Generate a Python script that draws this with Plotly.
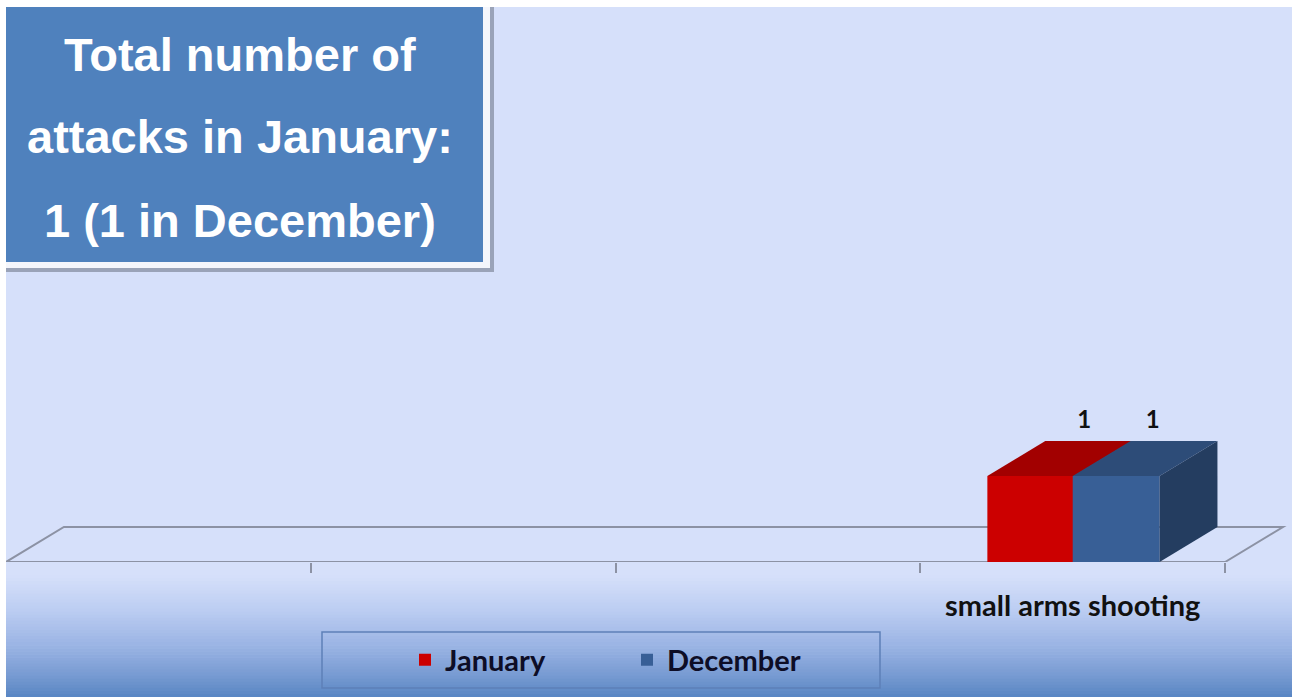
import plotly.graph_objects as go

# data
categories = ["", "", "", "small arms shooting"]
january = [None, None, None, 1]
december = [None, None, None, 1]
title_lines = ["Total number of", "attacks in January:", "1 (1 in December)"]

W, H = 1298, 697

# 3d look (axis units)
BAR_W = 0.285
OFFS = {"January": -0.28, "December": 0.0}
LABEL_SHIFT = {"January": 0.175, "December": 0.12}
DX, DY = 0.19, 0.407
X_RANGE = [-0.5, 3.713]
Y_RANGE = [0, 6.535]


def px(x):
    return x / W


def py(y):
    return 1 - y / H


fig = go.Figure()

front = {"January": "#cc0000", "December": "#385f96"}
top = {"January": "#a20000", "December": "#2d4c78"}
side = {"January": "#8a0000", "December": "#243d60"}

series = [("January", january), ("December", december)]
for name, vals in series:
    fig.add_trace(go.Bar(x=list(range(len(categories))), y=vals, name=name,
                         width=BAR_W, offset=OFFS[name],
                         marker=dict(color=front[name], line=dict(width=0))))

# top + side faces
for k, (name, vals) in enumerate(series):
    for i, v in enumerate(vals):
        if v is None:
            continue
        x0 = i + OFFS[name]
        x1 = x0 + BAR_W
        fig.add_trace(go.Scatter(x=[x0, x1, x1 + DX, x0 + DX, x0], y=[v, v, v + DY, v + DY, v],
                                 fill="toself", fillcolor=top[name], mode="lines",
                                 line=dict(width=0, color=top[name]),
                                 showlegend=False, hoverinfo="skip"))
        if k == len(series) - 1:
            fig.add_trace(go.Scatter(x=[x1, x1, x1 + DX, x1 + DX, x1], y=[0, v, v + DY, DY, 0],
                                     fill="toself", fillcolor=side[name], mode="lines",
                                     line=dict(width=0, color=side[name]),
                                     showlegend=False, hoverinfo="skip"))
        fig.add_trace(go.Scatter(x=[x0 + BAR_W / 2 + LABEL_SHIFT[name]], y=[v + DY + 0.22],
                                 mode="text", text=[str(v)], cliponaxis=False, showlegend=False,
                                 textfont=dict(family="Lato", size=24, color="#111111", weight="bold"),
                                 hoverinfo="skip"))

shapes = []
# background
shapes.append(dict(type="rect", xref="paper", yref="paper", x0=px(6), x1=px(1292), y0=0, y1=py(7),
                   fillcolor="#d6e0fa", line=dict(width=0), layer="below"))
# bottom gradient
stops = [(575, (214, 224, 250)), (610, (188, 205, 242)), (645, (155, 180, 228)),
         (675, (120, 155, 210)), (697, (88, 133, 195))]
n = 40
for j in range(n):
    y0 = 575 + (697 - 575) * j / n
    y1 = 575 + (697 - 575) * (j + 1) / n
    ym = (y0 + y1) / 2
    for a, b in zip(stops[:-1], stops[1:]):
        if a[0] <= ym <= b[0]:
            t = (ym - a[0]) / (b[0] - a[0])
            c = [round(a[1][q] + (b[1][q] - a[1][q]) * t) for q in range(3)]
            break
    shapes.append(dict(type="rect", xref="paper", yref="paper", x0=px(6), x1=px(1292),
                       y0=py(y1 + 0.5), y1=py(y0), fillcolor="rgb(%d,%d,%d)" % tuple(c),
                       line=dict(width=0), layer="below"))
# floor
fx0, fx1 = -0.5, 3.5
shapes.append(dict(type="path", xref="x", yref="y", layer="below",
                   path="M %f,0 L %f,0 L %f,%f L %f,%f Z" % (fx0, fx1, fx1 + DX, DY, fx0 + DX, DY),
                   line=dict(color="#8c92a4", width=2), fillcolor="rgba(0,0,0,0)"))
# title box
shapes.append(dict(type="rect", xref="paper", yref="paper", x0=px(6), x1=px(494), y0=py(272), y1=py(7),
                   fillcolor="#9aa3b8", line=dict(width=0)))
shapes.append(dict(type="rect", xref="paper", yref="paper", x0=px(6), x1=px(490), y0=py(268), y1=py(7),
                   fillcolor="#f4f6fc", line=dict(width=0)))
shapes.append(dict(type="rect", xref="paper", yref="paper", x0=px(6), x1=px(483), y0=py(262), y1=py(7),
                   fillcolor="#4f81bd", line=dict(width=0)))
# legend box
shapes.append(dict(type="rect", xref="paper", yref="paper", x0=px(322), x1=px(880), y0=py(688), y1=py(632),
                   fillcolor="rgba(0,0,0,0)", line=dict(color="#5d80b8", width=1.5), layer="below"))

annotations = []
for line, yc in zip(title_lines, [55, 137, 220]):
    annotations.append(dict(xref="paper", yref="paper", x=px(240), y=py(yc), text=line, showarrow=False,
                            xanchor="center", yanchor="middle",
                            font=dict(family="Liberation Sans", size=47, color="white", weight="bold")))

fig.update_layout(
    width=W, height=H, autosize=False,
    margin=dict(l=0, r=0, t=0, b=0),
    paper_bgcolor="white", plot_bgcolor="rgba(0,0,0,0)",
    barmode="overlay",
    shapes=shapes, annotations=annotations,
    xaxis=dict(domain=[px(6), px(1290)], range=X_RANGE, tickvals=list(range(len(categories))),
               ticktext=categories, ticks="", showgrid=False, zeroline=False, showline=False,
               ticklabelstandoff=24,
               tickfont=dict(family="Lato", size=29, color="#111111", weight="bold"),
               minor=dict(tickvals=[0.5, 1.5, 2.5, 3.5], ticks="outside", ticklen=10,
                          tickcolor="#8c92a4", tickwidth=1.5, showgrid=False)),
    yaxis=dict(domain=[py(562), 1], range=Y_RANGE, visible=False),
    showlegend=True,
    legend=dict(orientation="h", x=px(405), y=py(660), xanchor="left", yanchor="middle",
                bgcolor="rgba(0,0,0,0)", entrywidth=177, entrywidthmode="pixels",
                font=dict(family="Lato", size=29, color="#0d0d26", weight="bold")),
)

fig.write_html("out.html", config={"displayModeBar": False},
               post_script="document.body.style.margin='0px';")
